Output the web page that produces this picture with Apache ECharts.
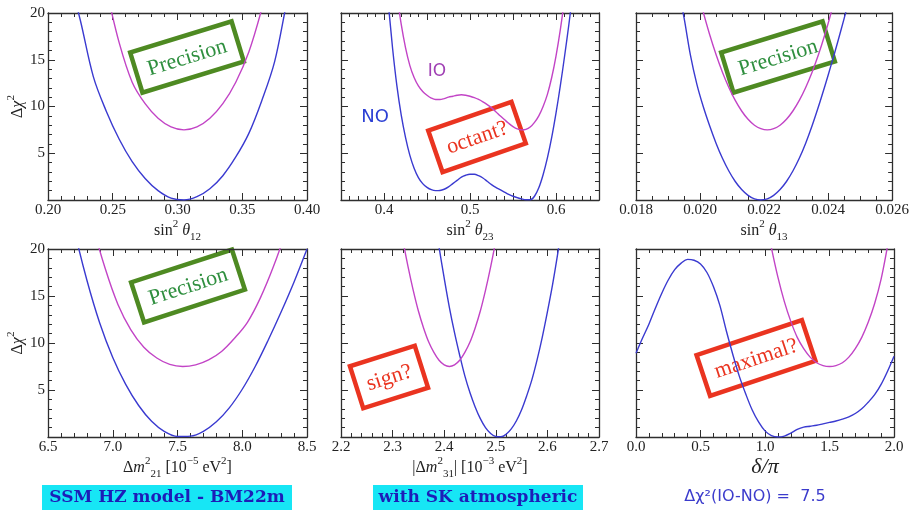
<!DOCTYPE html>
<html><head><meta charset="utf-8">
<script src="https://cdn.jsdelivr.net/npm/echarts@6/dist/echarts.min.js"></script>
<style>html,body{margin:0;padding:0;background:#fff}#c{width:912px;height:512px}</style>
</head><body><div id="c"></div>
<script>
// ---- data ----
const p1NOx = [0.215,0.225,0.235,0.245,0.255,0.265,0.275,0.285,0.295,0.305,0.315,0.325,0.335,0.345,0.355,0.365,0.375,0.385,0.395];
const p1NOy = [24.5,19.2,13.2,9.5,6.5,4.1,2.3,1.0,0.2,0,0.35,1.2,2.6,4.6,7.1,10.6,14.8,21.5,27];
const p1IOx = [0.235,0.245,0.255,0.265,0.275,0.285,0.295,0.305,0.315,0.325,0.335,0.345,0.355,0.365,0.375];
const p1IOy = [28,22.5,16.8,12.6,10.3,8.75,7.82,7.5,7.82,8.75,10.3,12.6,15.8,20.4,26];

const p2NOx = [0.400,0.405,0.410,0.415,0.420,0.425,0.430,0.435,0.440,0.445,0.450,0.455,0.460,0.465,0.470,0.475,0.480,0.485,0.490,0.495,0.500,0.505,0.510,0.515,0.520,0.525,0.530,0.535,0.540,0.545,0.550,0.555,0.560,0.565,0.570,0.575,0.580,0.585,0.590,0.595,0.600,0.605,0.610,0.615,0.620];
const p2NOy = [25,21,16.2,12.2,9.1,6.7,4.8,3.4,2.4,1.75,1.35,1.1,1.0,1.02,1.15,1.4,1.75,2.1,2.45,2.65,2.75,2.75,2.6,2.35,2.0,1.65,1.35,1.1,0.85,0.6,0.4,0.25,0.12,0.03,0.02,0.4,1.3,2.7,4.5,6.7,9.3,12.2,15.4,18.8,22.5];
const p2IOx = [0.415,0.420,0.425,0.430,0.435,0.440,0.445,0.450,0.455,0.460,0.465,0.470,0.475,0.480,0.485,0.490,0.495,0.500,0.505,0.510,0.515,0.520,0.525,0.530,0.535,0.540,0.545,0.550,0.555,0.560,0.565,0.570,0.575,0.580,0.585,0.590,0.595,0.600,0.605,0.610];
const p2IOy = [22,18.8,16.3,14.4,13.1,12.2,11.6,11.2,10.9,10.75,10.75,10.85,11.0,11.1,11.2,11.25,11.2,11.1,10.95,10.75,10.5,10.2,9.85,9.45,9.0,8.6,8.2,7.85,7.6,7.5,7.55,7.8,8.3,9.0,10.0,11.3,13.1,15.4,18.2,21.5];

const p3NOx = [0.0191,0.0193,0.0195,0.0197,0.0199,0.0201,0.0203,0.0205,0.0207,0.0209,0.0211,0.0213,0.0215,0.0217,0.0219,0.0221,0.0223,0.0225,0.0227,0.0229,0.0231,0.0233,0.0235,0.0237,0.0239,0.0241,0.0243,0.0245,0.0247];
const p3NOy = [26.5,23,19.5,15.5,12.4,10.0,7.94,6.08,4.46,3.1,1.98,1.12,0.5,0.12,0,0.12,0.5,1.12,1.98,3.1,4.46,6.08,7.94,10.0,12.2,14.5,16.9,19.4,22.0];
const p3IOx = [0.0197,0.0199,0.0201,0.0203,0.0205,0.0207,0.0209,0.0211,0.0213,0.0215,0.0217,0.0219,0.0221,0.0223,0.0225,0.0227,0.0229,0.0231,0.0233,0.0235,0.0237,0.0239,0.0241,0.0243,0.0245];
const p3IOy = [25.6,22.7,20.1,17.7,15.56,13.67,12.04,10.65,9.52,8.63,8.0,7.63,7.5,7.63,8.0,8.63,9.52,10.65,12.04,13.67,15.56,17.7,20.1,22.7,25.6];

const p4NOx = [6.6,6.7,6.8,6.9,7.0,7.1,7.2,7.3,7.4,7.5,7.6,7.7,7.8,7.9,8.0,8.1,8.2,8.3,8.4,8.5];
const p4NOy = [28.6,22.2,16.7,12.1,8.46,5.6,3.35,1.67,0.57,0.05,0.09,0.61,1.62,3.1,5.08,7.5,10.3,13.3,16.5,20];
const p4IOx = [6.74,6.84,6.94,7.04,7.14,7.24,7.34,7.44,7.54,7.64,7.74,7.84,7.94,8.04,8.14,8.24,8.34,8.44];
const p4IOy = [28.5,22.8,18.0,14.1,11.4,9.55,8.4,7.72,7.5,7.67,8.2,9.1,10.5,12.2,14.8,18.1,22,26.5];

const p5NOx = [2.38,2.39,2.40,2.41,2.42,2.43,2.44,2.45,2.46,2.47,2.48,2.49,2.50,2.51,2.52,2.53,2.54,2.55,2.56,2.57,2.58,2.59,2.60,2.61,2.62,2.63];
const p5NOy = [23.8,20.2,16.9,13.8,11.1,8.7,6.5,4.7,3.2,1.95,1.0,0.38,0.05,0.02,0.29,0.86,1.73,2.9,4.4,6.1,8.2,10.6,13.3,16.2,19.5,23.1];
const p5IOx = [2.31,2.32,2.33,2.34,2.35,2.36,2.37,2.38,2.39,2.40,2.41,2.42,2.43,2.44,2.45,2.46,2.47,2.48,2.49,2.50,2.51];
const p5IOy = [24,20.9,18.1,15.6,13.4,11.6,10.1,9.0,8.16,7.67,7.5,7.67,8.16,9.0,10.1,11.6,13.4,15.6,18.1,20.9,24];

const p6NOx = [0,0.05,0.10,0.15,0.20,0.25,0.30,0.35,0.40,0.45,0.50,0.55,0.60,0.65,0.70,0.75,0.80,0.85,0.90,0.95,1.00,1.05,1.10,1.15,1.20,1.25,1.30,1.35,1.40,1.45,1.50,1.55,1.60,1.65,1.70,1.75,1.80,1.85,1.90,1.95,2.00];
const p6NOy = [8.9,10.5,12.0,13.7,15.3,16.7,17.8,18.5,18.9,18.8,18.4,17.5,16.0,14.0,11.3,8.8,6.5,4.6,2.9,1.6,0.65,0.15,0.0,0.1,0.4,0.8,1.05,1.15,1.25,1.4,1.55,1.7,1.9,2.15,2.5,3.0,3.7,4.5,5.6,7.0,8.6];
const p6IOx = [1.00,1.05,1.10,1.15,1.20,1.25,1.30,1.35,1.40,1.45,1.50,1.55,1.60,1.65,1.70,1.75,1.80,1.85,1.90,1.95,2.00];
const p6IOy = [23.5,20.1,17.0,14.4,12.3,10.6,9.4,8.5,7.9,7.6,7.5,7.6,7.9,8.5,9.4,10.6,12.2,14.2,16.8,20.3,24];

const yTicks = [0, 20, 5];  // min, max, interval of Δχ²

const xNames = [
  '{n|sin}{p|2}{n| }{i|θ}{b|12}',
  '{n|sin}{p|2}{n| }{i|θ}{b|23}',
  '{n|sin}{p|2}{n| }{i|θ}{b|13}',
  '{n|Δ}{i|m}{p|2}{b|21}{n| [10}{p|−5}{n| eV}{p|2}{n|]}',
  '{n||Δ}{i|m}{p|2}{b|31}{n|| [10}{p|−3}{n| eV}{p|2}{n|]}',
  '{d|δ/π}'
];
const stampTexts = ['Precision','octant?','Precision','Precision','sign?','maximal?'];
const bottomTexts = ['SSM HZ model - BM22m','with SK atmospheric','Δχ²(IO-NO) =  7.5'];

// ---- layout / style ----
const SERIF = "Liberation Serif, DejaVu Serif, serif";
const NOcol = '#3a3ad0', IOcol = '#c244c6';
const grids = [
  {left:48, top:13, width:259, height:187},
  {left:341, top:13, width:258, height:187},
  {left:636, top:13, width:258, height:187},
  {left:48, top:249, width:259, height:188},
  {left:341, top:249, width:258, height:188},
  {left:636, top:249, width:258, height:188}
];
const xCfg = [
  {min:0.20, max:0.40, interval:0.05, split:5, fmt:v=>v.toFixed(2)},
  {min:0.35, max:0.65, interval:0.05, split:5, fmt:v=>(Math.round(v*100)%10===0? v.toFixed(1):'')},
  {min:0.018, max:0.026, interval:0.002, split:4, fmt:v=>v.toFixed(3)},
  {min:6.5, max:8.5, interval:0.5, split:5, fmt:v=>v.toFixed(1)},
  {min:2.2, max:2.7, interval:0.1, split:5, fmt:v=>v.toFixed(1)},
  {min:0, max:2, interval:0.5, split:5, fmt:v=>v.toFixed(1)}
];
const rich = {
  n:{fontFamily:SERIF, fontSize:16, color:'#222', lineHeight:24, verticalAlign:'middle'},
  i:{fontFamily:SERIF, fontSize:16, fontStyle:'italic', color:'#222', lineHeight:24, verticalAlign:'middle'},
  p:{fontFamily:SERIF, fontSize:11, color:'#222', verticalAlign:'top', lineHeight:14},
  b:{fontFamily:SERIF, fontSize:11, color:'#222', verticalAlign:'bottom', lineHeight:14},
  d:{fontFamily:SERIF, fontSize:22, fontStyle:'italic', color:'#222'}
};
const lineC = '#2e2e2e';
const xAxes = [], yAxes = [], series = [];
const zip = (a,b)=>a.map((v,i)=>[v,b[i]]);
const data = [
  [zip(p1NOx,p1NOy), zip(p1IOx,p1IOy)],
  [zip(p2NOx,p2NOy), zip(p2IOx,p2IOy)],
  [zip(p3NOx,p3NOy), zip(p3IOx,p3IOy)],
  [zip(p4NOx,p4NOy), zip(p4IOx,p4IOy)],
  [zip(p5NOx,p5NOy), zip(p5IOx,p5IOy)],
  [zip(p6NOx,p6NOy), zip(p6IOx,p6IOy)]
];
const labelStyle = {fontFamily:SERIF, fontSize:15, color:'#222'};
grids.forEach((g,i)=>{
  const c = xCfg[i];
  const common = {type:'value', gridIndex:i, min:c.min, max:c.max, interval:c.interval,
    axisLine:{show:true, onZero:false, lineStyle:{color:lineC, width:1.3}},
    axisTick:{inside:true, length:7, lineStyle:{color:lineC}},
    minorTick:{show:true, splitNumber:c.split, length:4, lineStyle:{color:lineC}},
    splitLine:{show:false}};
  xAxes.push(Object.assign({}, common, {position:'bottom',
    axisLabel:Object.assign({margin:3, formatter:c.fmt, showMinLabel:true, showMaxLabel:true}, labelStyle),
    name:xNames[i], nameLocation:'middle', nameGap: i===5?12:(i>=3?14:12),
    nameTextStyle:{fontFamily:SERIF, fontSize:16, color:'#222', rich:rich}}));
  xAxes.push(Object.assign({}, common, {position:'top', axisLabel:{show:false}}));
  const yc = {type:'value', gridIndex:i, min:yTicks[0], max:yTicks[1], interval:yTicks[2],
    axisLine:{show:true, onZero:false, lineStyle:{color:lineC, width:1.3}},
    axisTick:{inside:true, length:7, lineStyle:{color:lineC}},
    minorTick:{show:true, splitNumber:5, length:4, lineStyle:{color:lineC}},
    splitLine:{show:false}};
  const left = (i%3===0);
  yAxes.push(Object.assign({}, yc, {position:'left',
    axisLabel:Object.assign({show:left, margin:3, formatter:v=>v===0?'':String(v)}, labelStyle),
    name: left ? 'Δ{i|χ}{p|2}' : '', nameLocation:'middle', nameRotate:90, nameGap:17,
    nameTextStyle:{fontFamily:SERIF, fontSize:16, color:'#222', rich:rich}}));
  yAxes.push(Object.assign({}, yc, {position:'right', axisLabel:{show:false}}));
  series.push({type:'line', xAxisIndex:2*i, yAxisIndex:2*i, data:data[i][0], showSymbol:false, smooth:0.35, clip:true,
    lineStyle:{color:NOcol, width:1.4}, silent:true});
  series.push({type:'line', xAxisIndex:2*i, yAxisIndex:2*i, data:data[i][1], showSymbol:false, smooth:0.35, clip:true,
    lineStyle:{color:IOcol, width:1.4}, silent:true});
});

function stamp(cx, cy, w, h, rotDeg, text, stroke, fill){
  return {type:'group', x:cx, y:cy, rotation:rotDeg*Math.PI/180, z:100, children:[
    {type:'rect', shape:{x:-w/2, y:-h/2, width:w, height:h}, style:{fill:'rgba(255,255,255,0)', stroke:stroke, lineWidth:4.5}},
    {type:'text', style:{text:text, x:0, y:1, font:'22px '+SERIF, fill:fill,
      align:'center', verticalAlign:'middle', textAlign:'center', textVerticalAlign:'middle'}}
  ]};
}
const GREEN='#4e8a22', GREENT='#2f8f3f', RED='#ea3420';
const graphics = [
  stamp(187,57,106,42,17,stampTexts[0],GREEN,GREENT),
  stamp(477,137,88,44,19,stampTexts[1],RED,RED),
  stamp(778,57,106,42,17,stampTexts[2],GREEN,GREENT),
  stamp(188,286,106,42,18,stampTexts[3],GREEN,GREENT),
  stamp(389,377,68,44,17.6,stampTexts[4],RED,RED),
  stamp(756,358,111,43,18.4,stampTexts[5],RED,RED),
  {type:'text', x:437, y:72, style:{text:'IO', font:'17px "DejaVu Sans",sans-serif', fill:'#a040b4', align:'center', verticalAlign:'middle', textAlign:'center', textVerticalAlign:'middle'}},
  {type:'text', x:375, y:117, style:{text:'NO', font:'18px "DejaVu Sans",sans-serif', fill:'#2b3fd4', align:'center', verticalAlign:'middle', textAlign:'center', textVerticalAlign:'middle'}},
  {type:'rect', shape:{x:42, y:485, width:250, height:25}, style:{fill:'#17e6f5'}},
  {type:'text', x:167, y:498, style:{text:bottomTexts[0], font:'bold 17px "DejaVu Serif",serif', fill:'#1d1db8', align:'center', verticalAlign:'middle', textAlign:'center', textVerticalAlign:'middle'}},
  {type:'rect', shape:{x:373, y:485, width:210, height:25}, style:{fill:'#17e6f5'}},
  {type:'text', x:478, y:498, style:{text:bottomTexts[1], font:'bold 17px "DejaVu Serif",serif', fill:'#1d1db8', align:'center', verticalAlign:'middle', textAlign:'center', textVerticalAlign:'middle'}},
  {type:'text', x:755, y:497, style:{text:bottomTexts[2], font:'16px "DejaVu Sans",sans-serif', fill:'#3b3bcc', align:'center', verticalAlign:'middle', textAlign:'center', textVerticalAlign:'middle'}}
];

const chart = echarts.init(document.getElementById('c'), null, {renderer:'canvas'});
chart.setOption({
  animation:false, backgroundColor:'#fff',
  textStyle:{fontFamily:SERIF},
  grid:grids, xAxis:xAxes, yAxis:yAxes, series:series, graphic:graphics
});
</script></body></html>
